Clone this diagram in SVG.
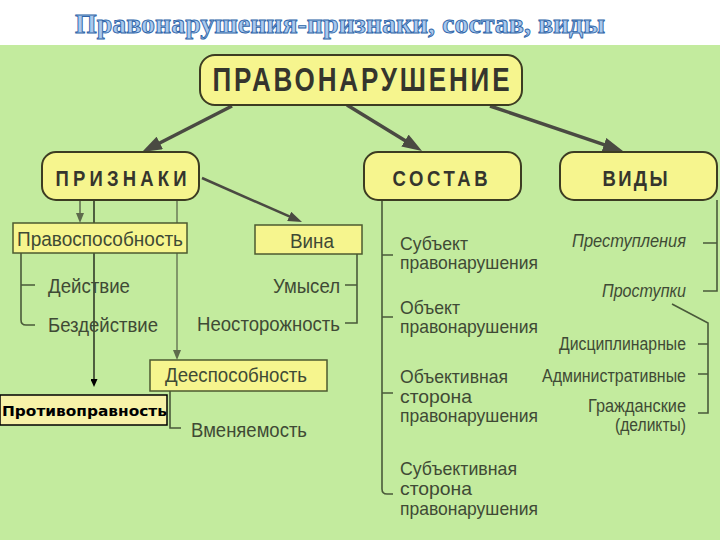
<svg xmlns="http://www.w3.org/2000/svg" width="720" height="540" viewBox="0 0 720 540">
<defs>
<marker id="big" viewBox="0 0 20 14" refX="10" refY="7" markerWidth="20" markerHeight="14" markerUnits="userSpaceOnUse" orient="auto"><path d="M0,0 L20,7 L0,14 z" fill="#4a4a42"/></marker>
<marker id="mid" viewBox="0 0 14 10" refX="7" refY="5" markerWidth="14" markerHeight="10" markerUnits="userSpaceOnUse" orient="auto"><path d="M0,0 L14,5 L0,10 z" fill="#4a4a42"/></marker>
<marker id="sm" viewBox="0 0 10 8" refX="5" refY="4" markerWidth="10" markerHeight="8" markerUnits="userSpaceOnUse" orient="auto"><path d="M0,0 L10,4 L0,8 z" fill="#5d6a4c"/></marker>
<marker id="blk" viewBox="0 0 8 7" refX="4" refY="3.5" markerWidth="8" markerHeight="7" markerUnits="userSpaceOnUse" orient="auto"><path d="M0,0 L8,3.5 L0,7 z" fill="#000"/></marker>
<style>
.node{fill:#f6f58e;stroke:#3c3c22;stroke-width:2}
.box{fill:#f6f58e;stroke:#4c5a30;stroke-width:1.5}
.hd{font-family:"Liberation Sans",Arial,sans-serif;font-weight:bold;fill:#35352d;text-anchor:middle}
.lb{font-family:"Liberation Sans",Arial,sans-serif;fill:#3f4a35;font-size:20.5px}
.sc{font-family:"Liberation Sans",Arial,sans-serif;fill:#3f4a35;font-size:18.5px}
.vd{font-family:"Liberation Sans",Arial,sans-serif;fill:#3f4a35;font-size:17.5px;text-anchor:end}
.br{fill:none;stroke:#4a5a3a;stroke-width:1.6}
.main{stroke:#4a4a42;stroke-width:3.5;fill:none}
</style>
</defs>
<rect x="0" y="0" width="720" height="540" fill="#ffffff"/>
<rect x="0" y="45" width="720" height="495" fill="#c3eb9e"/>
<text x="340" y="33" font-family="Liberation Serif,'Times New Roman',serif" font-weight="bold" font-size="28" fill="#a9c9ee" stroke="#2e64a8" stroke-width="0.9" text-anchor="middle" textLength="530" lengthAdjust="spacingAndGlyphs">Правонарушения-признаки, состав, виды</text>

<g id="connectors">
<line class="main" x1="232" y1="106" x2="150.9" y2="147.5" marker-end="url(#big)"/>
<line class="main" x1="347" y1="105" x2="413.5" y2="145.8" marker-end="url(#big)"/>
<line class="main" x1="490" y1="106" x2="613.5" y2="147.8" marker-end="url(#big)"/>
<line stroke="#4a4a42" stroke-width="2.5" x1="202" y1="178" x2="295.6" y2="219.2" marker-end="url(#mid)"/>
<line stroke="#5d6a4c" stroke-width="1.5" x1="80" y1="200" x2="80" y2="218" marker-end="url(#sm)"/>
<line stroke="#5d6a4c" stroke-width="1.3" x1="177" y1="200" x2="177" y2="355" marker-end="url(#sm)"/>
<line stroke="#000" stroke-width="1.2" x1="94" y1="200" x2="94" y2="383" marker-end="url(#blk)"/>
<path class="br" d="M21,253 V320 Q21,325 26,325 H35 M21,285 H35"/>
<path class="br" d="M357,254 V323 H345 M357,285 H345"/>
<path class="br" d="M170,391 V428 H181"/>
<path class="br" d="M382,200 V489 Q382,494 387,494 H393 M382,255 H393 M382,317 H393 M382,393 H393"/>
<path class="br" d="M717,200 V291 H703 M717,243 H703"/>
<path class="br" d="M672,304 L708,323 V413 H698 M708,344 H698 M708,374 H698"/>
</g>

<g id="n-pravonarushenie">
<rect class="node" x="200" y="55" width="322" height="50" rx="15"/>
<text class="hd" transform="translate(361,91) scale(1,1.25)" x="0" y="0" font-size="26" textLength="297" lengthAdjust="spacing">ПРАВОНАРУШЕНИЕ</text>
</g>
<g id="n-priznaki">
<rect class="node" x="42" y="152" width="157" height="48" rx="14"/>
<text class="hd" transform="translate(121,186) scale(1,1.2)" x="0" y="0" font-size="18.5" textLength="131" lengthAdjust="spacing">ПРИЗНАКИ</text>
</g>
<g id="n-sostav">
<rect class="node" x="364" y="152" width="157" height="48" rx="14"/>
<text class="hd" transform="translate(440,186) scale(1,1.2)" x="0" y="0" font-size="18.5" textLength="95" lengthAdjust="spacing">СОСТАВ</text>
</g>
<g id="n-vidy">
<rect class="node" x="560" y="152" width="157" height="48" rx="14"/>
<text class="hd" transform="translate(635,186) scale(1,1.2)" x="0" y="0" font-size="18.5" textLength="65" lengthAdjust="spacing">ВИДЫ</text>
</g>

<g id="n-pravosposobnost">
<rect class="box" x="13" y="223" width="174" height="30"/>
<text class="lb" x="17" y="246" textLength="166" lengthAdjust="spacingAndGlyphs">Правоспособность</text>
</g>
<g id="n-deystvie"><text class="lb" x="48" y="293" textLength="82" lengthAdjust="spacingAndGlyphs">Действие</text></g>
<g id="n-bezdeystvie"><text class="lb" x="48" y="332" textLength="110" lengthAdjust="spacingAndGlyphs">Бездействие</text></g>

<g id="n-vina">
<rect class="box" x="255" y="225" width="107" height="29"/>
<text class="lb" x="312" y="248" text-anchor="middle" textLength="44" lengthAdjust="spacingAndGlyphs">Вина</text>
</g>
<g id="n-umysel"><text class="lb" x="340" y="293" text-anchor="end" textLength="67" lengthAdjust="spacingAndGlyphs">Умысел</text></g>
<g id="n-neostorozhnost"><text class="lb" x="340" y="331" text-anchor="end" textLength="143" lengthAdjust="spacingAndGlyphs">Неосторожность</text></g>

<g id="n-deesposobnost">
<rect class="box" x="150" y="360" width="177" height="31"/>
<text class="lb" x="165" y="382" textLength="142" lengthAdjust="spacingAndGlyphs">Дееспособность</text>
</g>
<g id="n-vmenyaemost"><text class="lb" x="191" y="437" textLength="116" lengthAdjust="spacingAndGlyphs">Вменяемость</text></g>

<g id="n-protivopravnost">
<rect x="0" y="395" width="167" height="30" fill="#f7f2a8" stroke="#000" stroke-width="1.5"/>
<text x="2" y="416" font-family="'DejaVu Sans',Verdana,sans-serif" font-weight="bold" font-size="14" fill="#000" textLength="165" lengthAdjust="spacingAndGlyphs">Противоправность</text>
</g>

<g id="n-subekt">
<text class="sc" x="400" y="250" textLength="68" lengthAdjust="spacingAndGlyphs">Субъект</text>
<text class="sc" x="400" y="269" textLength="138" lengthAdjust="spacingAndGlyphs">правонарушения</text>
</g>
<g id="n-obekt">
<text class="sc" x="400" y="314" textLength="60" lengthAdjust="spacingAndGlyphs">Объект</text>
<text class="sc" x="400" y="333" textLength="138" lengthAdjust="spacingAndGlyphs">правонарушения</text>
</g>
<g id="n-obektivnaya">
<text class="sc" x="400" y="383" textLength="108" lengthAdjust="spacingAndGlyphs">Объективная</text>
<text class="sc" x="400" y="403" textLength="72" lengthAdjust="spacingAndGlyphs">сторона</text>
<text class="sc" x="400" y="422" textLength="138" lengthAdjust="spacingAndGlyphs">правонарушения</text>
</g>
<g id="n-subektivnaya">
<text class="sc" x="400" y="475" textLength="117" lengthAdjust="spacingAndGlyphs">Субъективная</text>
<text class="sc" x="400" y="495" textLength="72" lengthAdjust="spacingAndGlyphs">сторона</text>
<text class="sc" x="400" y="515" textLength="138" lengthAdjust="spacingAndGlyphs">правонарушения</text>
</g>

<g id="n-prestupleniya"><text class="vd" x="686" y="247" font-style="italic" textLength="114" lengthAdjust="spacingAndGlyphs">Преступления</text></g>
<g id="n-prostupki"><text class="vd" x="686" y="297" font-style="italic" textLength="84" lengthAdjust="spacingAndGlyphs">Проступки</text></g>
<g id="n-disciplinarnye"><text class="vd" x="686" y="350" textLength="127" lengthAdjust="spacingAndGlyphs">Дисциплинарные</text></g>
<g id="n-administrativnye"><text class="vd" x="686" y="382" textLength="144" lengthAdjust="spacingAndGlyphs">Административные</text></g>
<g id="n-grazhdanskie">
<text class="vd" x="686" y="412" textLength="98" lengthAdjust="spacingAndGlyphs">Гражданские</text>
<text class="vd" x="686" y="431" textLength="71" lengthAdjust="spacingAndGlyphs">(деликты)</text>
</g>
</svg>
